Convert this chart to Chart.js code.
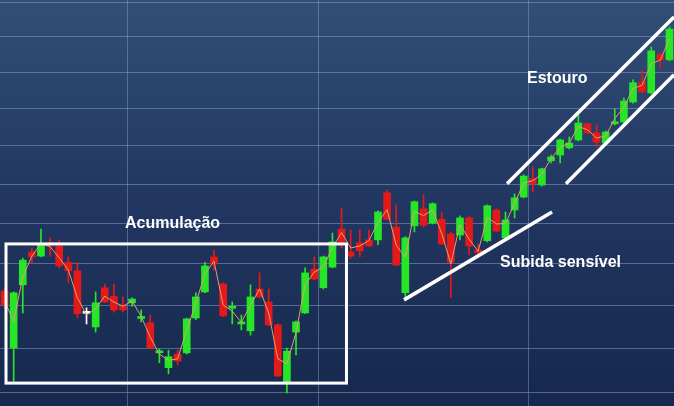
<!DOCTYPE html>
<html><head><meta charset="utf-8">
<script src="https://cdn.jsdelivr.net/npm/chart.js@4.4.1/dist/chart.umd.min.js"></script>
<style>html,body{margin:0;padding:0;background:#1c2f55;overflow:hidden}#wrap{width:674px;height:406px}</style>
</head><body><div id="wrap"><canvas id="c" width="674" height="406"></canvas></div>
<script>
// ---- data (prices) ----
const opens = [35.34,34.00,35.49,36.29,36.19,36.49,36.44,36.04,35.83,34.81,
  34.49,35.42,35.22,34.98,35.06,34.69,34.59,33.89,33.55,33.86,
  33.89,34.70,35.32,36.17,35.51,34.93,34.56,34.40,35.39,35.08,
  34.54,33.23,34.37,34.82,35.87,35.42,35.92,36.86,36.29,36.52,
  36.59,36.59,37.78,36.91,35.30,36.94,37.37,37.01,37.11,36.74,
  36.71,37.14,36.34,36.57,37.34,36.64,37.34,37.67,38.14,37.98,
  38.61,38.76,38.95,39.16,39.59,39.35,39.08,39.59,39.64,40.18,
  40.73,40.43,41.49,41.35];
const highs = [35.39,35.32,36.14,36.39,36.86,36.64,36.59,36.17,36.04,34.94,
  35.32,35.51,35.51,35.20,35.18,34.89,34.77,33.98,33.95,33.95,
  34.70,35.30,36.04,36.34,35.54,35.08,34.77,35.49,35.78,35.39,
  34.56,34.00,34.63,35.90,36.17,36.19,36.76,37.39,36.84,36.84,
  36.84,37.32,37.85,37.47,36.67,37.57,37.73,37.52,37.29,36.79,
  37.19,37.17,36.49,37.47,37.37,37.29,37.75,38.24,38.45,38.42,
  38.76,39.18,39.24,39.83,39.61,39.56,39.40,39.99,40.29,40.79,
  41.04,41.71,41.54,42.28];
const lows = [34.94,33.23,34.82,36.02,36.17,36.19,35.90,35.54,34.70,34.56,
  34.37,35.06,34.84,34.84,34.98,34.61,33.98,33.66,33.41,33.61,
  33.86,34.66,35.30,35.85,34.73,34.56,34.42,34.30,35.18,34.52,
  33.34,32.98,33.84,34.80,35.61,35.39,35.90,36.39,36.14,36.17,
  36.42,36.47,37.09,35.95,35.18,36.79,36.91,36.99,36.47,35.18,
  36.59,36.22,36.17,36.54,36.79,36.62,37.14,37.65,37.80,37.95,
  38.55,38.55,38.92,39.13,39.32,38.97,39.05,39.56,39.61,40.15,
  40.43,40.40,41.12,41.32];
const closes = [35.01,35.30,36.09,36.17,36.47,36.44,35.95,35.83,34.80,34.81,
  35.06,35.08,34.89,34.89,35.15,34.71,34.00,33.93,33.80,33.70,
  34.68,35.20,35.95,36.00,34.75,34.95,34.61,35.20,35.20,34.54,
  33.36,33.93,34.61,35.78,35.63,36.17,36.54,36.54,36.19,36.32,
  36.44,37.29,37.11,35.97,36.64,37.55,36.96,37.50,36.49,36.04,
  37.14,36.44,36.27,37.45,36.81,37.09,37.65,38.21,38.01,38.40,
  38.71,39.16,39.08,39.61,39.35,39.10,39.37,39.64,40.21,40.71,
  40.46,41.60,41.35,42.22];
const trendLine = [35.11,34.62,35.68,36.19,36.50,36.42,36.15,35.85,35.18,34.77,
  34.92,35.22,35.08,34.98,35.10,34.74,34.25,33.86,33.72,33.75,
  34.41,35.05,35.76,36.06,35.01,34.86,34.60,35.00,35.39,34.82,
  33.75,33.64,34.36,35.49,35.80,35.92,36.40,36.77,36.39,36.44,
  36.57,37.03,37.35,36.46,36.16,37.30,37.20,37.34,36.75,36.00,
  36.97,36.61,36.31,37.15,36.99,37.00,37.51,38.03,38.09,38.26,
  38.67,38.96,39.08,39.52,39.43,39.21,39.27,39.73,40.04,40.55,
  40.64,41.24,41.34,41.94];
const categories = opens.map((_, i) => String(i + 1));
const monthStarts = [14, 35, 58];
const priceLevels = [33, 34, 35, 36, 37, 38, 39, 40, 41, 42, 43];
const yMin = 32.688, yMax = 43.062;

// ---- annotations (in data coordinates: category index, price) ----
const annotations = {
  rect: { x1: 0.16, y1: 36.49, x2: 37.54, y2: 33.20 },
  lines: [
    { x1: 43.86, y1: 35.13, x2: 60.11, y2: 37.29 },
    { x1: 55.17, y1: 38.01, x2: 73.50, y2: 42.57 },
    { x1: 61.64, y1: 38.01, x2: 73.50, y2: 40.93 }
  ],
  texts: [
    { text: 'Acumulação', x: 13.22, y: 36.89 },
    { text: 'Estouro', x: 57.36, y: 40.71 },
    { text: 'Subida sensível', x: 54.40, y: 35.92 }
  ]
};

const GREEN = '#26e626', RED = '#e41a1a', WHITE = '#ffffff';
const candleColors = opens.map((o, i) => closes[i] > o ? GREEN : (closes[i] < o ? RED : WHITE));

const bgPlugin = {
  id: 'bg',
  beforeDraw(chart) {
    const { ctx, width, height } = chart;
    const g = ctx.createLinearGradient(0, 0, 0, height);
    g.addColorStop(0, '#324f76');
    g.addColorStop(0.5, '#213661');
    g.addColorStop(1, '#16284c');
    ctx.save();
    ctx.fillStyle = g;
    ctx.fillRect(0, 0, width, height);
    ctx.restore();
  }
};

const annoPlugin = {
  id: 'anno',
  afterDatasetsDraw(chart) {
    const { ctx } = chart;
    const xs = chart.scales.x, ys = chart.scales.y;
    const px = v => xs.getPixelForValue(v), py = v => ys.getPixelForValue(v);
    ctx.save();
    ctx.strokeStyle = '#ffffff';
    ctx.lineWidth = 3;
    const r = annotations.rect;
    ctx.strokeRect(px(r.x1), py(r.y1), px(r.x2) - px(r.x1), py(r.y2) - py(r.y1));
    ctx.lineWidth = 3.5;
    ctx.lineCap = 'butt';
    annotations.lines.forEach(l => {
      ctx.beginPath();
      ctx.moveTo(px(l.x1), py(l.y1));
      ctx.lineTo(px(l.x2), py(l.y2));
      ctx.stroke();
    });
    ctx.fillStyle = '#ffffff';
    ctx.font = 'bold 16px "Liberation Sans", Arial, sans-serif';
    ctx.textBaseline = 'alphabetic';
    ctx.textAlign = 'left';
    annotations.texts.forEach(t => ctx.fillText(t.text, px(t.x), py(t.y)));
    ctx.restore();
  }
};

new Chart(document.getElementById('c'), {
  data: {
    labels: categories,
    datasets: [
      { type: 'line', data: trendLine, borderColor: '#e0a070', borderWidth: 1, pointRadius: 0, tension: 0, order: 0 },
      { type: 'bar', data: opens.map((o, i) => [o, closes[i]]), backgroundColor: candleColors,
        barThickness: 7, grouped: false, minBarLength: 2, borderWidth: 0, order: 1 },
      { type: 'bar', data: lows.map((l, i) => [l, highs[i]]), backgroundColor: candleColors,
        barThickness: 1, grouped: false, borderWidth: 0, order: 2 }
    ]
  },
  options: {
    responsive: false,
    animation: false,
    devicePixelRatio: 1,
    layout: { padding: 0, autoPadding: false },
    plugins: { legend: { display: false }, tooltip: { enabled: false } },
    scales: {
      x: {
        type: 'category', offset: true,
        ticks: { display: false },
        border: { display: false },
        grid: {
          offset: true, drawTicks: false, lineWidth: 1,
          color: ctx => monthStarts.includes(ctx.index) ? 'rgba(140,165,205,0.45)' : 'rgba(0,0,0,0)'
        }
      },
      y: {
        type: 'logarithmic', min: yMin, max: yMax, bounds: 'data',
        ticks: { display: false },
        border: { display: false },
        grid: { drawTicks: false, color: 'rgba(140,165,205,0.5)', lineWidth: 1 },
        afterBuildTicks: axis => { axis.ticks = priceLevels.map(v => ({ value: v })); }
      }
    }
  },
  plugins: [bgPlugin, annoPlugin]
});
</script></body></html>
